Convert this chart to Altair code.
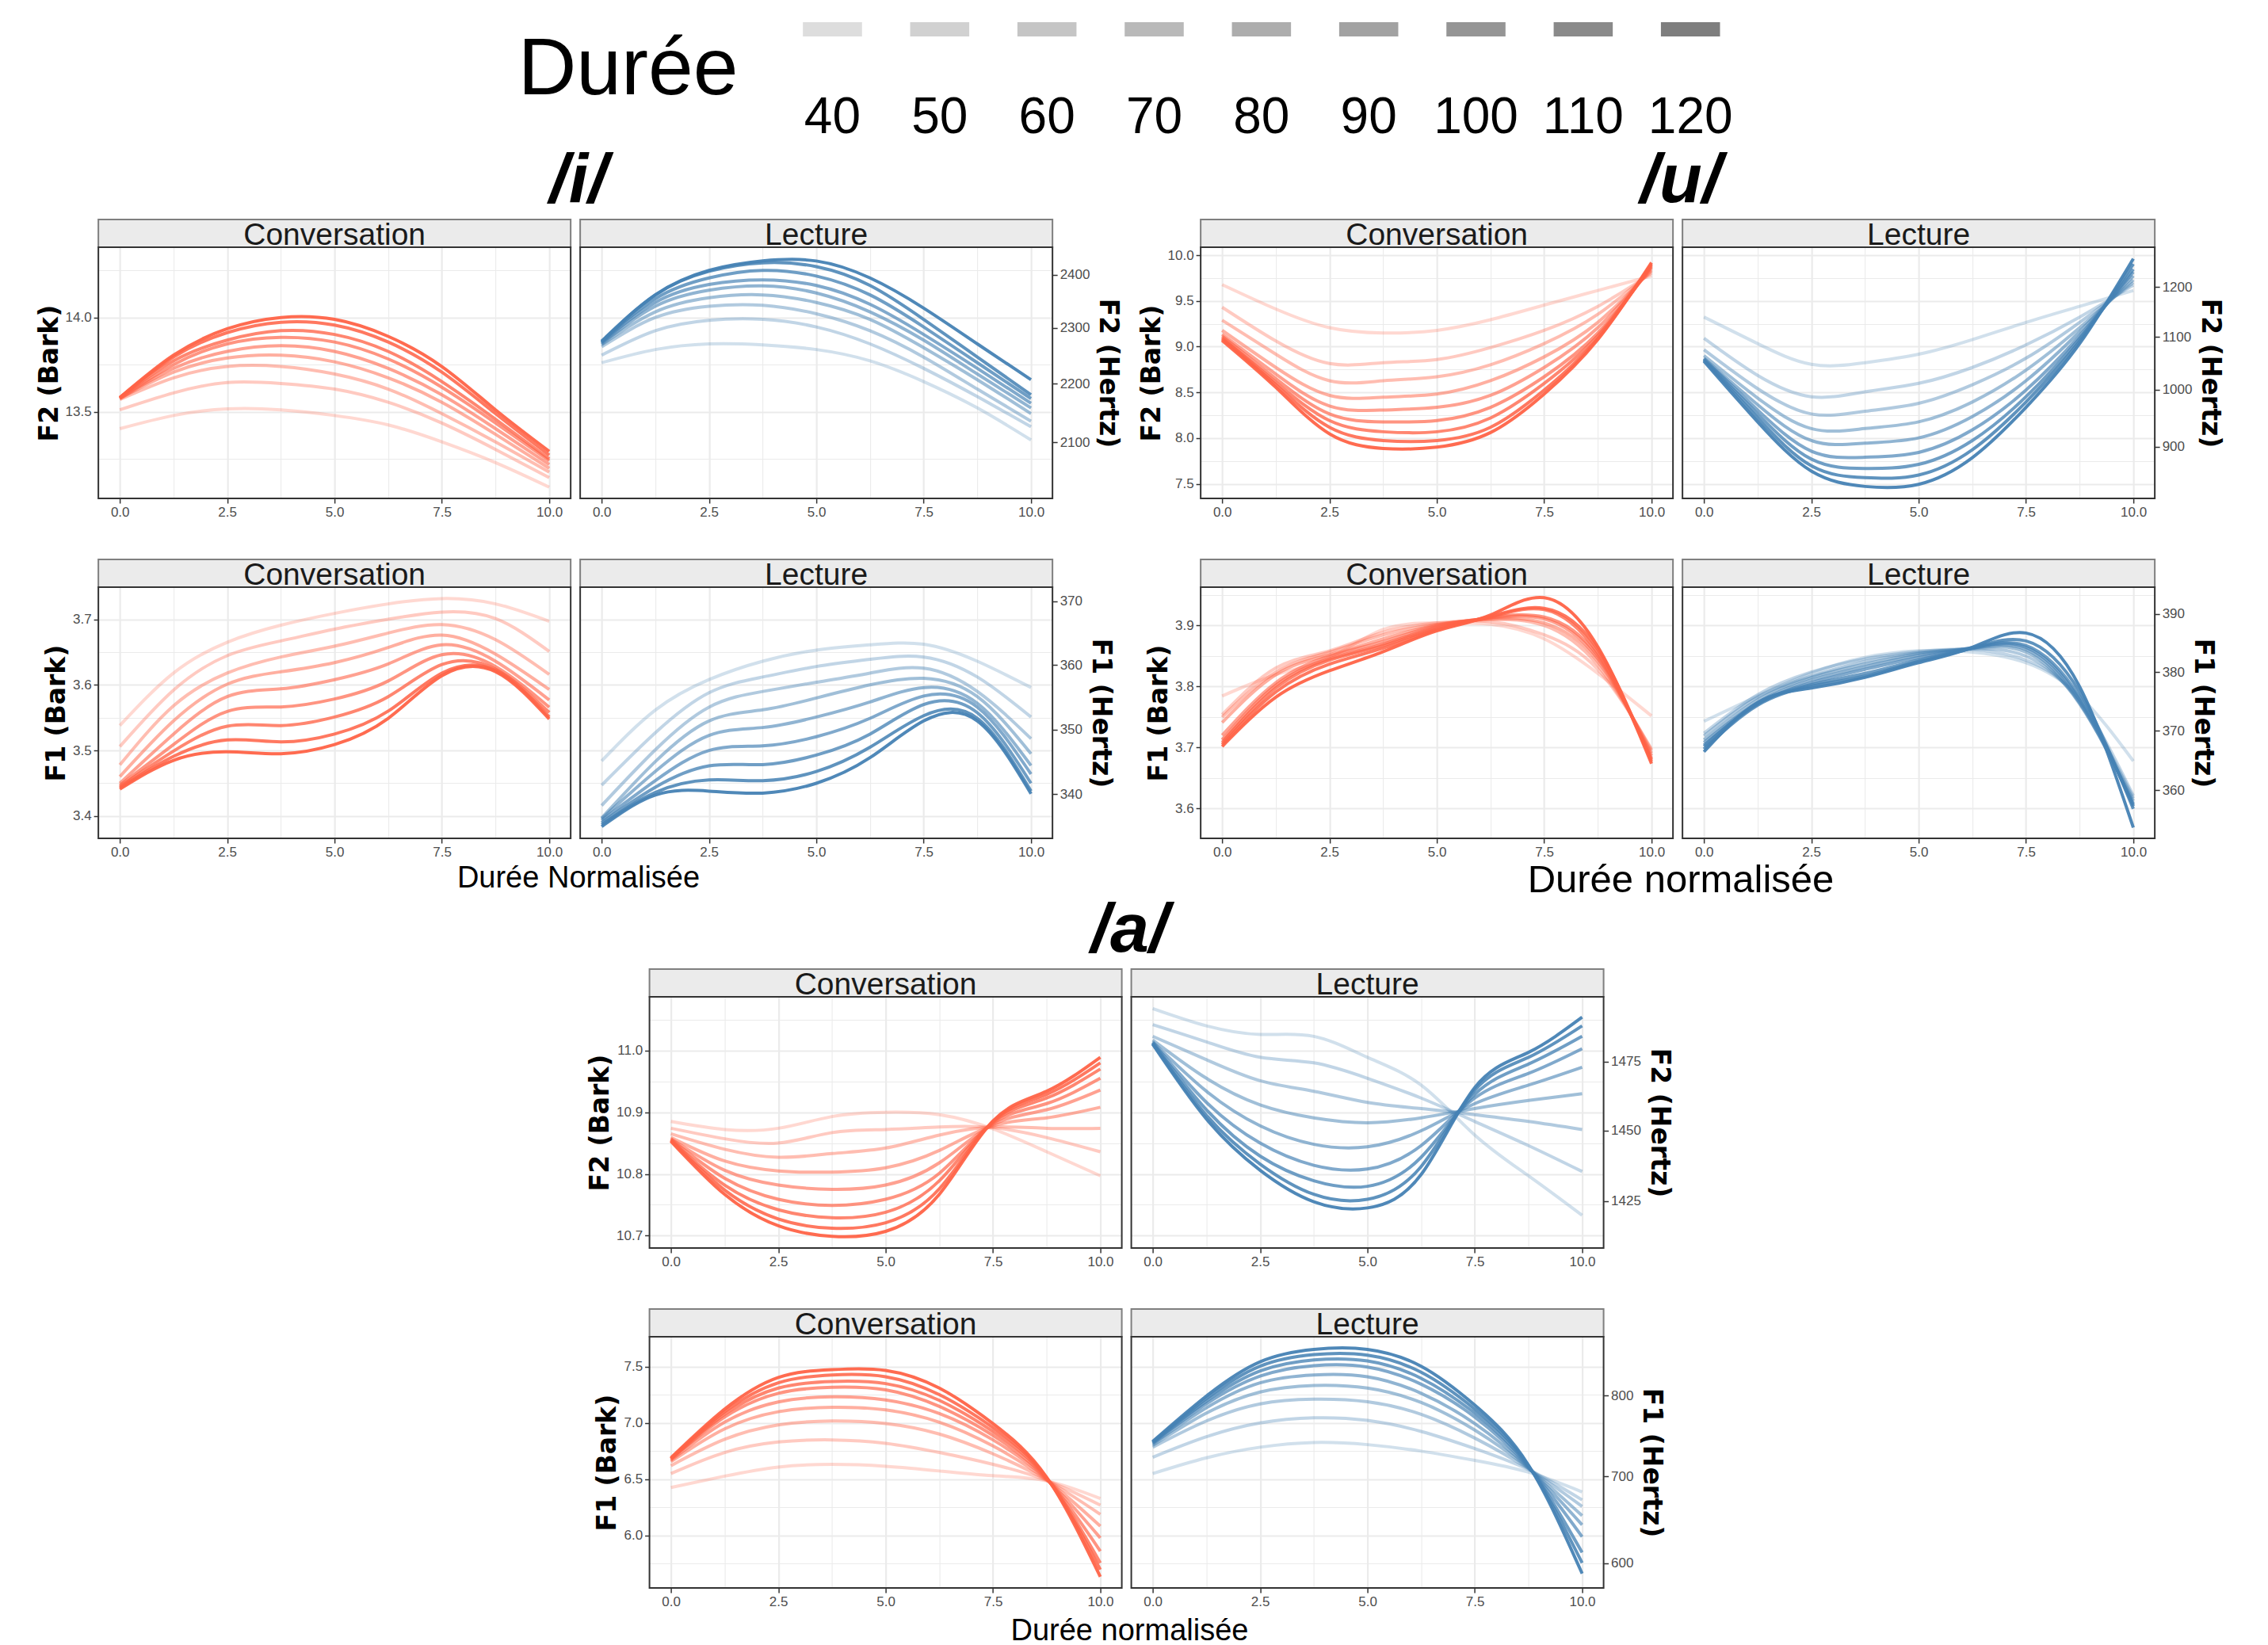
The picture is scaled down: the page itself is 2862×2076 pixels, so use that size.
import altair as alt
import pandas as pd

# ---------------- data (Bark values) ----------------
X_POS = [0, 1.25, 2.5, 3.75, 5, 6.25, 7.5, 8.75, 10]
DURATIONS = [40, 50, 60, 70, 80, 90, 100, 110, 120]

I_F2_CONV = [
    [13.41, 13.48, 13.515, 13.51, 13.48, 13.43, 13.34, 13.23, 13.10],
    [13.51, 13.60, 13.655, 13.65, 13.62, 13.55, 13.44, 13.30, 13.15],
    [13.565, 13.68, 13.74, 13.74, 13.70, 13.62, 13.49, 13.34, 13.18],
    [13.57, 13.71, 13.785, 13.80, 13.765, 13.68, 13.55, 13.38, 13.20],
    [13.57, 13.73, 13.82, 13.85, 13.82, 13.73, 13.59, 13.41, 13.22],
    [13.57, 13.75, 13.86, 13.895, 13.87, 13.78, 13.63, 13.44, 13.24],
    [13.575, 13.77, 13.88, 13.93, 13.91, 13.82, 13.66, 13.46, 13.25],
    [13.575, 13.79, 13.92, 13.975, 13.96, 13.87, 13.71, 13.49, 13.27],
    [13.575, 13.80, 13.94, 14.0, 13.99, 13.90, 13.74, 13.51, 13.29],
]
I_F2_LEC = [
    [13.76, 13.83, 13.86, 13.855, 13.83, 13.77, 13.66, 13.52, 13.35],
    [13.80, 13.93, 13.985, 13.99, 13.95, 13.86, 13.73, 13.58, 13.42],
    [13.845, 14.0, 14.06, 14.065, 14.02, 13.93, 13.79, 13.62, 13.45],
    [13.855, 14.03, 14.105, 14.12, 14.08, 13.99, 13.84, 13.67, 13.49],
    [13.86, 14.06, 14.145, 14.168, 14.13, 14.03, 13.88, 13.70, 13.52],
    [13.865, 14.08, 14.175, 14.20, 14.17, 14.07, 13.91, 13.73, 13.545],
    [13.87, 14.10, 14.21, 14.25, 14.22, 14.12, 13.95, 13.76, 13.57],
    [13.87, 14.12, 14.245, 14.29, 14.27, 14.17, 13.99, 13.79, 13.59],
    [13.875, 14.12, 14.25, 14.30, 14.30, 14.21, 14.05, 13.86, 13.67],
]
I_F1_CONV = [
    [3.538, 3.618, 3.665, 3.691, 3.709, 3.7235, 3.7316, 3.7235, 3.697],
    [3.506, 3.592, 3.6445, 3.667, 3.685, 3.700, 3.711, 3.701, 3.651],
    [3.478, 3.568, 3.618, 3.6425, 3.659, 3.679, 3.692, 3.669, 3.616],
    [3.460, 3.545, 3.601, 3.620, 3.634, 3.657, 3.676, 3.647, 3.593],
    [3.450, 3.525, 3.582, 3.594, 3.608, 3.632, 3.661, 3.636, 3.577],
    [3.447, 3.509, 3.5595, 3.5664, 3.5785, 3.606, 3.646, 3.628, 3.566],
    [3.445, 3.499, 3.537, 3.538, 3.551, 3.582, 3.631, 3.624, 3.558],
    [3.443, 3.491, 3.516, 3.513, 3.525, 3.560, 3.618, 3.622, 3.551],
    [3.441, 3.485, 3.498, 3.495, 3.509, 3.549, 3.614, 3.620, 3.548],
]
I_F1_LEC = [
    [3.484, 3.5615, 3.608, 3.636, 3.653, 3.661, 3.662, 3.636, 3.596],
    [3.447, 3.527, 3.588, 3.612, 3.628, 3.639, 3.6425, 3.612, 3.551],
    [3.416, 3.501, 3.566, 3.590, 3.604, 3.618, 3.6255, 3.590, 3.518],
    [3.397, 3.483, 3.545, 3.562, 3.580, 3.600, 3.610, 3.582, 3.495],
    [3.396, 3.468, 3.523, 3.535, 3.551, 3.574, 3.596, 3.572, 3.477],
    [3.3935, 3.454, 3.500, 3.507, 3.521, 3.549, 3.583, 3.566, 3.464],
    [3.390, 3.444, 3.4765, 3.4785, 3.493, 3.525, 3.570, 3.5575, 3.450],
    [3.387, 3.436, 3.455, 3.454, 3.468, 3.505, 3.553, 3.549, 3.438],
    [3.384, 3.432, 3.438, 3.435, 3.450, 3.489, 3.545, 3.545, 3.434],
]
U_F2_CONV = [
    [9.678, 9.411, 9.207, 9.149, 9.178, 9.294, 9.454, 9.614, 9.774],
    [9.431, 9.062, 8.815, 8.824, 8.859, 8.990, 9.178, 9.440, 9.803],
    [9.289, 8.917, 8.627, 8.627, 8.670, 8.801, 9.033, 9.353, 9.823],
    [9.178, 8.772, 8.467, 8.447, 8.481, 8.627, 8.888, 9.265, 9.840],
    [9.135, 8.699, 8.351, 8.307, 8.336, 8.467, 8.772, 9.207, 9.861],
    [9.114, 8.650, 8.264, 8.177, 8.191, 8.336, 8.670, 9.149, 9.875],
    [9.097, 8.612, 8.191, 8.069, 8.069, 8.220, 8.598, 9.120, 9.890],
    [9.085, 8.583, 8.118, 7.973, 7.973, 8.118, 8.525, 9.091, 9.904],
    [9.068, 8.554, 8.046, 7.886, 7.901, 8.060, 8.481, 9.077, 9.919],
]
U_F2_LEC = [
    [9.323, 9.033, 8.807, 8.824, 8.917, 9.077, 9.265, 9.440, 9.614],
    [9.091, 8.685, 8.452, 8.505, 8.598, 8.772, 9.019, 9.323, 9.672],
    [8.966, 8.540, 8.264, 8.293, 8.380, 8.583, 8.873, 9.265, 9.701],
    [8.902, 8.438, 8.104, 8.104, 8.177, 8.394, 8.743, 9.207, 9.730],
    [8.873, 8.365, 7.973, 7.944, 8.002, 8.235, 8.627, 9.164, 9.774],
    [8.865, 8.307, 7.857, 7.790, 7.843, 8.089, 8.525, 9.120, 9.817],
    [8.859, 8.264, 7.770, 7.668, 7.712, 7.973, 8.452, 9.091, 9.846],
    [8.850, 8.220, 7.697, 7.567, 7.596, 7.872, 8.394, 9.062, 9.904],
    [8.841, 8.177, 7.639, 7.471, 7.494, 7.785, 8.336, 9.033, 9.962],
]
U_F1_CONV = [
    [3.7845, 3.8194, 3.8477, 3.8935, 3.9044, 3.9022, 3.8782, 3.8216, 3.7519],
    [3.754, 3.8303, 3.8586, 3.8891, 3.9044, 3.9065, 3.8847, 3.8281, 3.6974],
    [3.7497, 3.8237, 3.8564, 3.8847, 3.9022, 3.9096, 3.900, 3.8346, 3.6952],
    [3.741, 3.8194, 3.8521, 3.8782, 3.9009, 3.9109, 3.9044, 3.8412, 3.6908],
    [3.720, 3.8063, 3.8499, 3.8739, 3.900, 3.9122, 3.9109, 3.8455, 3.6865],
    [3.7126, 3.802, 3.8455, 3.8695, 3.8978, 3.9131, 3.9139, 3.8499, 3.6821],
    [3.7083, 3.7976, 3.8434, 3.8673, 3.8956, 3.9139, 3.9261, 3.8542, 3.680],
    [3.7048, 3.7911, 3.8368, 3.863, 3.8935, 3.9153, 3.9283, 3.8608, 3.6769],
    [3.7017, 3.7824, 3.8259, 3.8573, 3.8913, 3.9174, 3.9458, 3.8651, 3.6734],
]
U_F1_LEC = [
    [3.7431, 3.7845, 3.822, 3.8477, 3.8586, 3.8564, 3.839, 3.7845, 3.6778],
    [3.7235, 3.7867, 3.8237, 3.8455, 3.8573, 3.8608, 3.8434, 3.778, 3.6211],
    [3.7192, 3.7824, 3.8172, 3.8412, 3.8556, 3.8617, 3.8499, 3.7736, 3.6168],
    [3.7126, 3.778, 3.815, 3.8368, 3.8542, 3.863, 3.8564, 3.7715, 3.6124],
    [3.7083, 3.7736, 3.8107, 3.8325, 3.8512, 3.863, 3.8608, 3.7736, 3.6081],
    [3.7039, 3.7715, 3.8063, 3.8281, 3.8477, 3.8638, 3.8643, 3.778, 3.6059],
    [3.7017, 3.7715, 3.8033, 3.8216, 3.8434, 3.863, 3.8673, 3.7824, 3.6037],
    [3.6974, 3.7693, 3.8007, 3.8172, 3.8412, 3.863, 3.8747, 3.7911, 3.5993],
    [3.693, 3.7736, 3.7976, 3.815, 3.839, 3.8643, 3.8878, 3.7998, 3.5688],
]
A_F2_CONV = [
    [10.885, 10.872, 10.874, 10.893, 10.900, 10.896, 10.873, 10.836, 10.797],
    [10.874, 10.857, 10.850, 10.867, 10.872, 10.876, 10.875, 10.859, 10.836],
    [10.865, 10.840, 10.827, 10.833, 10.842, 10.863, 10.876, 10.874, 10.874],
    [10.859, 10.821, 10.805, 10.803, 10.810, 10.838, 10.878, 10.891, 10.908],
    [10.857, 10.806, 10.782, 10.775, 10.782, 10.818, 10.880, 10.904, 10.936],
    [10.856, 10.793, 10.759, 10.749, 10.759, 10.801, 10.882, 10.914, 10.955],
    [10.855, 10.782, 10.742, 10.729, 10.738, 10.789, 10.884, 10.923, 10.970],
    [10.854, 10.774, 10.727, 10.712, 10.721, 10.776, 10.885, 10.929, 10.980],
    [10.853, 10.767, 10.716, 10.699, 10.707, 10.767, 10.886, 10.934, 10.989],
]
A_F2_LEC = [
    [11.068, 11.040, 11.026, 11.023, 10.989, 10.944, 10.863, 10.797, 10.733],
    [11.042, 11.014, 10.989, 10.980, 10.955, 10.923, 10.885, 10.846, 10.804],
    [11.023, 10.985, 10.951, 10.934, 10.916, 10.906, 10.896, 10.885, 10.872],
    [11.017, 10.955, 10.912, 10.891, 10.883, 10.891, 10.906, 10.919, 10.930],
    [11.014, 10.934, 10.878, 10.848, 10.844, 10.870, 10.914, 10.944, 10.973],
    [11.013, 10.916, 10.850, 10.814, 10.808, 10.846, 10.923, 10.963, 11.003],
    [11.012, 10.904, 10.829, 10.789, 10.780, 10.827, 10.929, 10.978, 11.023],
    [11.011, 10.895, 10.816, 10.767, 10.759, 10.812, 10.936, 10.989, 11.040],
    [11.010, 10.889, 10.806, 10.755, 10.745, 10.799, 10.940, 10.997, 11.054],
]
A_F1_CONV = [
    [6.425, 6.526, 6.607, 6.631, 6.614, 6.572, 6.530, 6.484, 6.327],
    [6.549, 6.736, 6.829, 6.848, 6.818, 6.736, 6.631, 6.488, 6.269],
    [6.619, 6.853, 6.981, 7.016, 6.993, 6.900, 6.724, 6.491, 6.187],
    [6.654, 6.946, 7.098, 7.138, 7.114, 7.005, 6.794, 6.493, 6.082],
    [6.666, 7.005, 7.185, 7.231, 7.203, 7.082, 6.848, 6.498, 5.977],
    [6.678, 7.051, 7.262, 7.315, 7.292, 7.145, 6.888, 6.502, 5.860],
    [6.678, 7.075, 7.308, 7.367, 7.348, 7.199, 6.923, 6.507, 5.755],
    [6.682, 7.098, 7.355, 7.425, 7.409, 7.250, 6.958, 6.512, 5.696],
    [6.689, 7.121, 7.402, 7.472, 7.465, 7.308, 6.993, 6.516, 5.633],
]
A_F1_LEC = [
    [6.549, 6.689, 6.783, 6.825, 6.806, 6.748, 6.666, 6.561, 6.386],
    [6.694, 6.876, 6.998, 7.044, 7.021, 6.923, 6.771, 6.584, 6.315],
    [6.783, 7.016, 7.168, 7.210, 7.187, 7.075, 6.864, 6.591, 6.257],
    [6.799, 7.086, 7.273, 7.332, 7.308, 7.180, 6.935, 6.596, 6.175],
    [6.811, 7.133, 7.355, 7.425, 7.409, 7.262, 6.993, 6.600, 6.093],
    [6.820, 7.168, 7.414, 7.507, 7.495, 7.343, 7.051, 6.607, 5.988],
    [6.825, 7.192, 7.460, 7.558, 7.549, 7.395, 7.086, 6.614, 5.848],
    [6.829, 7.215, 7.502, 7.605, 7.600, 7.449, 7.121, 6.619, 5.755],
    [6.834, 7.238, 7.542, 7.652, 7.652, 7.502, 7.157, 6.624, 5.661],
]

# axis ticks (Bark on the left, Hertz on the right)
X_TICKS = [0, 1.25, 2.5, 3.75, 5, 6.25, 7.5, 8.75, 10]
I_F2_BARK = [13.25, 13.5, 13.75, 14.0, 14.25]
I_F1_BARK = [3.4, 3.45, 3.5, 3.55, 3.6, 3.65, 3.7]
U_F2_BARK = [7.5, 7.75, 8.0, 8.25, 8.5, 8.75, 9.0, 9.25, 9.5, 9.75, 10.0]
U_F1_BARK = [3.6, 3.65, 3.7, 3.75, 3.8, 3.85, 3.9, 3.95]
A_F2_BARK = [10.7, 10.75, 10.8, 10.85, 10.9, 10.95, 11.0, 11.05]
A_F1_BARK = [5.75, 6.0, 6.25, 6.5, 6.75, 7.0, 7.25, 7.5, 7.75]
I_F2_HZ = [2100, 2200, 2300, 2400]
I_F1_HZ = [340, 350, 360, 370]
U_F2_HZ = [900, 1000, 1100, 1200]
U_F1_HZ = [360, 370, 380, 390]
A_F2_HZ = [1425, 1450, 1475]
A_F1_HZ = [600, 700, 800]

STYLES = ["Conversation", "Lecture"]
LEGEND_TITLE = "Durée"

# ---------------- styling ----------------
W, H = 596, 317
RED = "#FF6347"
BLUE = "#4682B4"
FONT = "Liberation Sans"
TFONT = "DejaVu Sans"
GRID = "#EBEBEB"
OPAC = alt.Scale(domain=[40, 120], range=[0.25, 0.95])


def bark(f):
    return 26.81 * f / (1960 + f) - 0.53


def to_df(rows):
    recs = []
    for d, vals in zip(DURATIONS, rows):
        for t, v in zip(X_POS, vals):
            recs.append({"t": t, "v": v, "dur": d})
    return pd.DataFrame(recs)


def minor_test(step):
    return f"abs(datum.value/{step} - round(datum.value/{step})) > 0.001"


def cond(test, a, b):
    return {"condition": {"test": test, "value": a}, "value": b}


TICK_STYLE = dict(tickSize=6, tickColor="#333333", tickWidth=1.5,
                  labelFont=FONT, labelFontSize=17, labelColor="#4D4D4D",
                  labelPadding=3, labelOverlap=False, labelFlush=False, domain=False)
TITLE_STYLE = dict(titleFont=TFONT, titleFontSize=33, titleFontWeight="bold",
                   titleColor="black")


def x_enc():
    test = minor_test(2.5)
    return alt.X("t:Q", scale=alt.Scale(domain=[-0.5, 10.5], nice=False, zero=False),
                 axis=alt.Axis(values=X_TICKS, title=None, grid=True, gridColor=GRID,
                               gridWidth=cond(test, 1.1, 2.2),
                               tickOpacity=cond(test, 0, 1),
                               labelExpr=f"{test} ? '' : format(datum.value, '.1f')",
                               **TICK_STYLE))


def panel(rows, style, color, dom, bark_vals, step, formant, hz_vals):
    df = to_df(rows)
    test = minor_test(step)
    yscale = alt.Scale(domain=dom, nice=False, zero=False)
    if style == "Conversation":
        yaxis = alt.Axis(values=bark_vals, title=f"{formant} (Bark)", grid=True, gridColor=GRID,
                         gridWidth=cond(test, 1.1, 2.2), tickOpacity=cond(test, 0, 1),
                         labelExpr=f"{test} ? '' : format(datum.value, '.1f')",
                         titlePadding=3, **TICK_STYLE, **TITLE_STYLE)
    else:
        yaxis = alt.Axis(values=bark_vals, title=None, grid=True, gridColor=GRID,
                         gridWidth=cond(test, 1.1, 2.2), labels=False, ticks=False,
                         domain=False, minExtent=0, maxExtent=0)
    lines = alt.Chart(df).mark_line(interpolate="natural", strokeWidth=4, color=color).encode(
        x=x_enc(),
        y=alt.Y("v:Q", scale=yscale, axis=yaxis),
        opacity=alt.Opacity("dur:Q", scale=OPAC, legend=None),
        detail="dur:N",
    )
    sdf = pd.DataFrame({"label": [style]})
    strip_rect = alt.Chart(sdf).mark_rect(fill="#EBEBEB", stroke="#7F7F7F", strokeWidth=2).encode(
        x=alt.value(0), x2=alt.value(W), y=alt.value(-35), y2=alt.value(0))
    strip_text = alt.Chart(sdf).mark_text(font=FONT, fontSize=39, color="#1A1A1A",
                                          baseline="alphabetic", align="center").encode(
        x=alt.value(W / 2), y=alt.value(-3), text="label:N")
    border = alt.Chart(sdf).mark_rect(fill="transparent", stroke="#333333", strokeWidth=2).encode(
        x=alt.value(0), x2=alt.value(W), y=alt.value(0), y2=alt.value(H))
    layers = [lines, strip_rect, strip_text, border]
    if style == "Lecture":
        right = alt.Chart(df).mark_point(opacity=0).encode(
            y=alt.Y("v:Q", scale=yscale,
                    axis=alt.Axis(orient="right", values=[bark(h) for h in hz_vals],
                                  labelExpr="format(round(1960*(datum.value+0.53)/(26.28-datum.value)), 'd')",
                                  grid=False, title=f"{formant} (Hertz)", titlePadding=6,
                                  **TICK_STYLE, **TITLE_STYLE)))
        layers.append(right)
        return alt.layer(*layers).resolve_scale(y="independent").properties(width=W, height=H)
    return alt.layer(*layers).properties(width=W, height=H)


def block(vowel, f2c, f2l, f1c, f1l, f2dom, f1dom, f2bark, f2step, f1bark, f1step,
          f2hz, f1hz, xtitle, xsize, xoff):
    grid = alt.concat(
        panel(f2c, "Conversation", RED, f2dom, f2bark, f2step, "F2", f2hz),
        panel(f2l, "Lecture", BLUE, f2dom, f2bark, f2step, "F2", f2hz),
        panel(f1c, "Conversation", RED, f1dom, f1bark, f1step, "F1", f1hz),
        panel(f1l, "Lecture", BLUE, f1dom, f1bark, f1step, "F1", f1hz),
        columns=2, spacing={"row": 112, "column": 12}, bounds="flush",
    ).properties(
        title=alt.TitleParams(xtitle, orient="bottom", font=FONT, fontSize=xsize,
                              fontWeight="normal", color="black", anchor="middle",
                              offset=xoff))
    return alt.vconcat(grid).properties(
        title=alt.TitleParams(vowel, font=FONT, fontSize=88, fontWeight="bold",
                              fontStyle="italic", color="black", anchor="middle", offset=3))


i_block = block("/i/", I_F2_CONV, I_F2_LEC, I_F1_CONV, I_F1_LEC,
                [13.04, 14.373], [3.366, 3.749], I_F2_BARK, 0.5, I_F1_BARK, 0.1,
                I_F2_HZ, I_F1_HZ, "Durée Normalisée", 38, 7)
u_block = block("/u/", U_F2_CONV, U_F2_LEC, U_F1_CONV, U_F1_LEC,
                [7.34, 10.087], [3.551, 3.963], U_F2_BARK, 0.5, U_F1_BARK, 0.1,
                U_F2_HZ, U_F1_HZ, "Durée normalisée", 49, 4)
a_block = block("/a/", A_F2_CONV, A_F2_LEC, A_F1_CONV, A_F1_LEC,
                [10.68, 11.087], [5.533, 7.764], A_F2_BARK, 0.1, A_F1_BARK, 0.5,
                A_F2_HZ, A_F1_HZ, "Durée normalisée", 38, 11)

# ---------------- legend ----------------
LEG_W = 1428
leg_df = pd.DataFrame({"dur": DURATIONS})
lx = alt.X("dur:O", scale=alt.Scale(paddingInner=0.449, paddingOuter=1.0, align=1), axis=None)
keys = alt.Chart(leg_df).mark_rect(color="#777777").encode(
    x=lx, y=alt.value(3), y2=alt.value(21),
    opacity=alt.Opacity("dur:Q", scale=OPAC, legend=None))
klabels = alt.Chart(leg_df).mark_text(font=FONT, fontSize=64, baseline="alphabetic",
                                      color="black").encode(
    x=lx, y=alt.value(143), text="dur:N")
ltitle = alt.Chart(pd.DataFrame({"t": [LEGEND_TITLE]})).mark_text(
    font=FONT, fontSize=102, baseline="alphabetic", align="right", color="black").encode(
    x=alt.value(189), y=alt.value(94), text="t:N")
legend = alt.layer(keys, klabels, ltitle).properties(width=LEG_W, height=18)

top = alt.vconcat(legend, alt.hconcat(i_block, u_block, spacing=22), spacing=4, center=True)
chart = alt.vconcat(top, a_block, spacing=-5, center=True).properties(
    padding={"left": 38, "top": 17, "right": 5, "bottom": 2},
    background="white",
).configure_view(strokeWidth=0)

chart.save("out.html", embed_options={"renderer": "svg", "actions": False})
